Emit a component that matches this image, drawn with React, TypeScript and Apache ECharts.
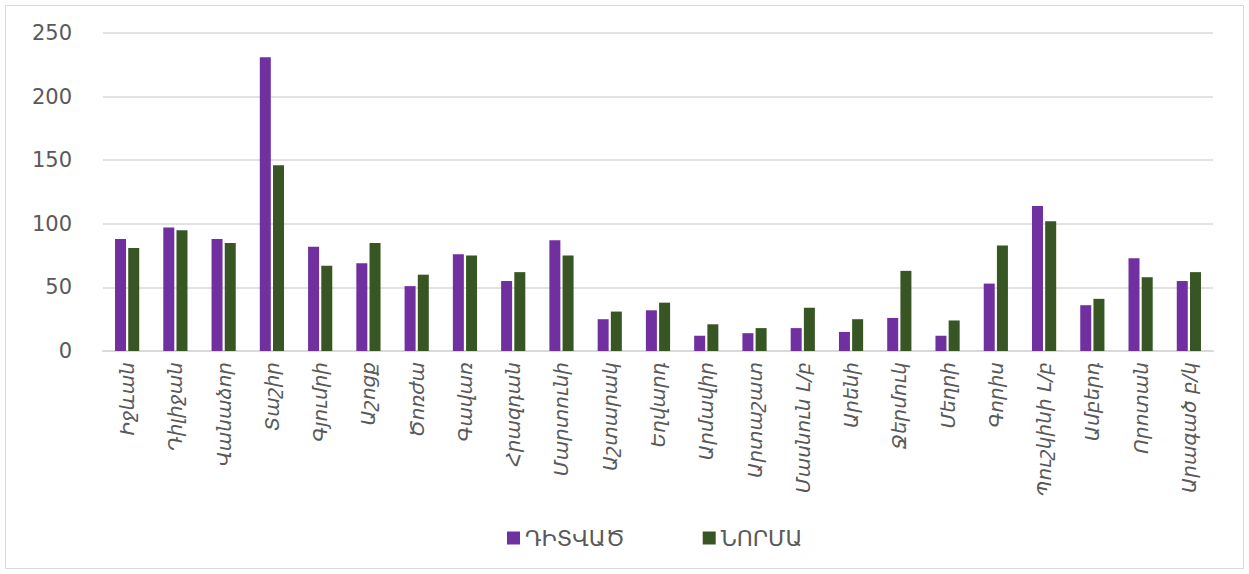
import React, { useEffect, useRef } from "react";
import * as echarts from "echarts";

const categories = [
  "Իջևան", "Դիլիջան", "Վանաձոր", "Տաշիր", "Գյումրի", "Աշոցք", "Ծոռժա", "Գավառ",
  "Հրազդան", "Մարտունի", "Աշտարակ", "Եղվարդ", "Արմավիր", "Արտաշատ", "Մասնուն Լ/բ",
  "Արենի", "Ջերմուկ", "Մեղրի", "Գորիս", "Պուշկինի Լ/բ", "Ամբերդ", "Որոտան", "Արագած բ/կ",
];
const observed = [88, 97, 88, 231, 82, 69, 51, 76, 55, 87, 25, 32, 12, 14, 18, 15, 26, 12, 53, 114, 36, 73, 55];
const norm = [81, 95, 85, 146, 67, 85, 60, 75, 62, 75, 31, 38, 21, 18, 34, 25, 63, 24, 83, 102, 41, 58, 62];
const yTicks = { min: 0, max: 250, interval: 50 };
const seriesNames = ["ԴԻՏՎԱԾ", "ՆՈՐՄԱ"];

export default function App() {
  const ref = useRef<HTMLDivElement>(null);
  useEffect(() => {
    document.body.style.margin = "0";
    const chart = echarts.init(ref.current!, null, { renderer: "svg" });
    chart.setOption({
      animation: false,
      backgroundColor: "#ffffff",
      graphic: [
        {
          type: "rect",
          shape: { x: 5.5, y: 5.5, width: 1238, height: 563 },
          style: { fill: "none", stroke: "#d9d9d9", lineWidth: 1 },
          silent: true,
        },
      ],
      grid: { left: 103, right: 36, top: 33, bottom: 223, containLabel: false },
      legend: {
        top: 522,
        left: 502,
        itemWidth: 13,
        itemHeight: 13,
        itemGap: 78,
        icon: "rect",
        textStyle: { fontFamily: "DejaVu Sans", fontSize: 22, color: "#595959" },
        data: seriesNames,
      },
      xAxis: {
        type: "category",
        data: categories,
        axisLine: { lineStyle: { color: "#d9d9d9", width: 2 } },
        axisTick: { show: false },
        axisLabel: {
          rotate: 90,
          interval: 0,
          margin: 11,
          fontFamily: "DejaVu Sans",
          fontStyle: "italic",
          fontSize: 20,
          color: "#595959",
        },
      },
      yAxis: {
        type: "value",
        min: yTicks.min,
        max: yTicks.max,
        interval: yTicks.interval,
        axisLine: { show: false },
        axisTick: { show: false },
        splitLine: { lineStyle: { color: "#d9d9d9", width: 1.5 } },
        axisLabel: {
          margin: 31,
          fontFamily: "DejaVu Sans",
          fontSize: 21,
          color: "#595959",
        },
      },
      series: [
        {
          name: seriesNames[0],
          type: "bar",
          data: observed,
          barWidth: 11,
          barGap: "20%",
          itemStyle: { color: "#7030a0" },
        },
        {
          name: seriesNames[1],
          type: "bar",
          data: norm,
          barWidth: 11,
          itemStyle: { color: "#375623" },
        },
      ],
    });
    return () => chart.dispose();
  }, []);
  return <div ref={ref} style={{ position: "absolute", left: 0, top: 0, width: 1249, height: 574 }} />;
}
